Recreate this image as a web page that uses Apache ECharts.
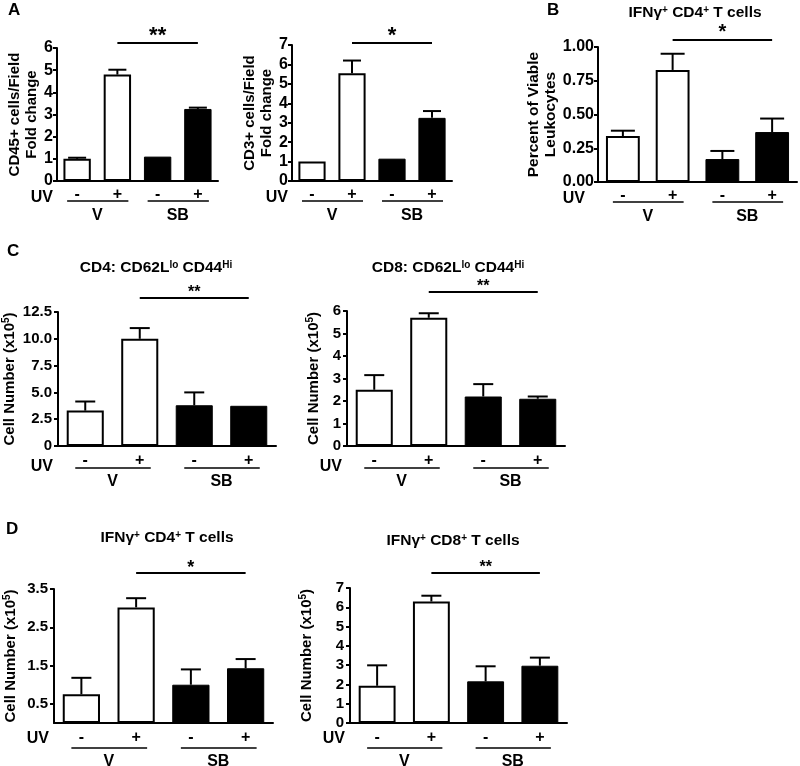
<!DOCTYPE html>
<html><head><meta charset="utf-8">
<script src="https://cdn.jsdelivr.net/npm/echarts@6/dist/echarts.min.js"></script>
<style>html,body{margin:0;padding:0;background:#fff}#c{width:800px;height:766px}</style>
</head><body><div id="c"></div>
<script>
// ---------- data ----------
const uvLabels = ['-', '+', '-', '+'];
const groupNames = ['V', 'SB'];
const groupSpans = [[0, 1], [2, 3]];
const sigPair = [1, 3];

const a1Mean = [1.0, 4.8, 1.1, 3.25];
const a1Err  = [0.05, 0.22, 0.0, 0.06];
const a2Mean = [1.0, 5.55, 1.15, 3.25];
const a2Err  = [0.05, 0.65, 0.0, 0.35];
const bMean  = [0.34, 0.83, 0.17, 0.37];
const bErr   = [0.04, 0.12, 0.06, 0.10];
const c1Mean = [3.3, 10.0, 3.8, 3.75];
const c1Err  = [0.85, 1.0, 1.2, 0.05];
const c2Mean = [2.5, 5.7, 2.2, 2.1];
const c2Err  = [0.65, 0.2, 0.55, 0.1];
const d1Mean = [0.75, 3.02, 1.0, 1.43];
const d1Err  = [0.43, 0.24, 0.4, 0.24];
const d2Mean = [1.93, 6.3, 2.16, 2.97];
const d2Err  = [1.06, 0.3, 0.78, 0.42];

const sigMarks = ['**', '*', '*', '**', '**', '*', '**'];
const yTitles = [
  'CD45+ cells/Field\nFold change',
  'CD3+ cells/Field\nFold change',
  'Percent of Viable\nLeukocytes',
  'Cell Number (x10{s|5})',
  'Cell Number (x10{s|5})',
  'Cell Number (x10{s|5})',
  'Cell Number (x10{s|5})'
];
const yMax = [6, 7, 1, 12.5, 6, 3.5, 7];
const yInterval = [1, 1, 0.25, 2.5, 1, 0.5, 1];
const d1TickValues = [0.5, 1.5, 2.5, 3.5];
const panelTitles = [
  {text: 'IFNγ{s|+} CD4{s|+} T cells', x: 695, y: 13},
  {text: 'CD4: CD62L{s|lo} CD44{s|Hi}', x: 156, y: 268},
  {text: 'CD8: CD62L{s|lo} CD44{s|Hi}', x: 448, y: 268},
  {text: 'IFNγ{s|+} CD4{s|+} T cells', x: 167, y: 538},
  {text: 'IFNγ{s|+} CD8{s|+} T cells', x: 453, y: 541}
];
const letters = [
  {t: 'A', x: 8, y: 10}, {t: 'B', x: 547, y: 10}, {t: 'C', x: 7, y: 251}, {t: 'D', x: 6, y: 529}
];

// ---------- layout ----------
const FONT = '"Liberation Sans", Arial, sans-serif';
const means = [a1Mean, a2Mean, bMean, c1Mean, c2Mean, d1Mean, d2Mean];
const errs  = [a1Err, a2Err, bErr, c1Err, c2Err, d1Err, d2Err];
const L = [
  {grid: {left: 57, top: 48, width: 161, height: 133}, nameGap: 16, nameSize: 15, tick: 16, tm: 4, xm: 6, sigDy: 5, sigSize: 22, lineDy: 20, textDy: 35, uvDy: 17, uvGap: 4, cap: 9, fmt: v => String(v)},
  {grid: {left: 292, top: 45, width: 160, height: 136}, nameGap: 15, nameSize: 15, tick: 16, tm: 4, xm: 6, sigDy: 2, sigSize: 22, lineDy: 20, textDy: 35, uvDy: 17, uvGap: 4, cap: 9, fmt: v => String(v)},
  {grid: {left: 598, top: 47, width: 199, height: 135}, nameGap: 38, nameSize: 15.5, tick: 16, tm: 4, xm: 6, sigDy: 7, sigSize: 20, lineDy: 20, textDy: 35, uvDy: 17, uvGap: 13, cap: 12, fmt: v => v.toFixed(2)},
  {grid: {left: 57, top: 312, width: 219, height: 134}, nameGap: 40, nameSize: 15, tick: 15, tm: 6, xm: 7, sigDy: 14, sigSize: 16, lineDy: 22, textDy: 36, uvDy: 21, uvGap: 5, cap: 10, fmt: v => v === 0 ? '0' : v.toFixed(1)},
  {grid: {left: 347, top: 311, width: 218, height: 135}, nameGap: 25, nameSize: 15, tick: 15, tm: 6, xm: 7, sigDy: 19, sigSize: 16, lineDy: 22, textDy: 36, uvDy: 21, uvGap: 5, cap: 10, fmt: v => String(v)},
  {grid: {left: 54, top: 589, width: 219, height: 134}, nameGap: 35, nameSize: 15, tick: 15, tm: 6, xm: 7, sigDy: 16, sigSize: 18, lineDy: 25, textDy: 39, uvDy: 16, uvGap: 5, cap: 10, fmt: v => v.toFixed(1)},
  {grid: {left: 350, top: 588, width: 217, height: 135}, nameGap: 35, nameSize: 15, tick: 15, tm: 6, xm: 7, sigDy: 15, sigSize: 16, lineDy: 25, textDy: 39, uvDy: 16, uvGap: 5, cap: 10, fmt: v => String(v)}
];

const grids = [], xAxes = [], yAxes = [], series = [];
L.forEach((p, k) => {
  grids.push(Object.assign({containLabel: false}, p.grid));
  xAxes.push({
    gridIndex: k, type: 'category', data: uvLabels,
    axisLine: {lineStyle: {color: '#000', width: 2}},
    axisTick: {alignWithLabel: true, length: 4, lineStyle: {color: '#000', width: 2}},
    axisLabel: {color: '#000', fontWeight: 'bold', fontSize: 16, margin: p.xm, fontFamily: FONT}
  });
  const y = {
    gridIndex: k, type: 'value', min: 0, max: yMax[k], interval: yInterval[k],
    splitLine: {show: false},
    axisLine: {show: true, lineStyle: {color: '#000', width: 2}},
    axisTick: {show: true, length: 4, lineStyle: {color: '#000', width: 2}},
    axisLabel: {color: '#000', fontWeight: 'bold', fontSize: p.tick, margin: p.tm, fontFamily: FONT, formatter: p.fmt},
    name: yTitles[k], nameLocation: 'middle', nameGap: p.nameGap, nameRotate: 90,
    nameTextStyle: {color: '#000', fontWeight: 'bold', fontSize: p.nameSize, fontFamily: FONT, lineHeight: 17,
      rich: {s: {fontSize: 10, fontWeight: 'bold', fontFamily: FONT, verticalAlign: 'top', lineHeight: 10}}}
  };
  if (k === 5) {
    y.axisLabel.customValues = d1TickValues;
    y.axisTick.customValues = d1TickValues;
  }
  yAxes.push(y);

  series.push({
    type: 'bar', xAxisIndex: k, yAxisIndex: k, barCategoryGap: '32%', animation: false,
    data: means[k].map((v, i) => ({value: v, itemStyle: i < 2
      ? {color: '#fff', borderColor: '#000', borderWidth: 2}
      : {color: '#000', borderColor: '#000', borderWidth: 1}}))
  });
  // error bars (upper SEM)
  series.push({
    type: 'custom', xAxisIndex: k, yAxisIndex: k, z: 5, animation: false,
    data: means[k].map((m, i) => [i, m, m + errs[k][i]]),
    renderItem(params, api) {
      const b = api.coord([api.value(0), api.value(1)]);
      const t = api.coord([api.value(0), api.value(2)]);
      if (Math.abs(b[1] - t[1]) < 1) return {type: 'group', children: []};
      const st = {stroke: '#000', lineWidth: 2};
      return {type: 'group', children: [
        {type: 'line', shape: {x1: b[0], y1: b[1], x2: t[0], y2: t[1]}, style: st},
        {type: 'line', shape: {x1: t[0] - p.cap, y1: t[1], x2: t[0] + p.cap, y2: t[1]}, style: st}
      ]};
    }
  });
  // group underlines with V / SB and UV label
  series.push({
    type: 'custom', xAxisIndex: k, yAxisIndex: k, z: 5, animation: false, clip: false,
    data: groupSpans.map(g => [g[0], g[1]]),
    renderItem(params, api) {
      const cs = params.coordSys;
      const y0 = cs.y + cs.height;
      const s = api.coord([api.value(0), 0]);
      const e = api.coord([api.value(1), 0]);
      const x1 = s[0] - 10, x2 = e[0] + 11;
      const ch = [
        {type: 'line', shape: {x1: x1, y1: y0 + p.lineDy, x2: x2, y2: y0 + p.lineDy}, style: {stroke: '#000', lineWidth: 1.5}},
        {type: 'text', x: (s[0] + e[0]) / 2, y: y0 + p.textDy, style: {text: groupNames[params.dataIndex], fill: '#000',
          font: 'bold 16px ' + FONT, textAlign: 'center', textVerticalAlign: 'middle'}}
      ];
      if (params.dataIndex === 0) {
        ch.push({type: 'text', x: cs.x - p.uvGap, y: y0 + p.uvDy, style: {text: 'UV', fill: '#000',
          font: 'bold 16px ' + FONT, textAlign: 'right', textVerticalAlign: 'middle'}});
      }
      return {type: 'group', children: ch};
    }
  });
  // significance bar
  series.push({
    type: 'custom', xAxisIndex: k, yAxisIndex: k, z: 5, animation: false, clip: false,
    data: [[sigPair[0], sigPair[1]]],
    renderItem(params, api) {
      const cs = params.coordSys;
      const yl = cs.y - p.sigDy;
      const s = api.coord([api.value(0), 0]);
      const e = api.coord([api.value(1), 0]);
      const gap = k < 3 ? 12 : 9;
      return {type: 'group', children: [
        {type: 'line', shape: {x1: s[0], y1: yl, x2: e[0], y2: yl}, style: {stroke: '#000', lineWidth: 2}},
        {type: 'text', x: (s[0] + e[0]) / 2, y: yl - gap + 0.23 * p.sigSize, style: {text: sigMarks[k], fill: '#000',
          font: 'bold ' + p.sigSize + 'px ' + FONT, textAlign: 'center', textVerticalAlign: 'middle'}}
      ]};
    }
  });
});

const graphics = [];
letters.forEach(l => graphics.push({type: 'text', x: l.x, y: l.y, style: {text: l.t, fill: '#000',
  font: 'bold 17px ' + FONT, textAlign: 'left', textVerticalAlign: 'middle'}}));
panelTitles.forEach(t => graphics.push({type: 'text', x: t.x, y: t.y, style: {text: t.text, fill: '#000',
  fontFamily: FONT, fontWeight: 'bold', fontSize: 15.5, textAlign: 'center', textVerticalAlign: 'middle',
  rich: {s: {fontSize: 10, fontWeight: 'bold', fontFamily: FONT, verticalAlign: 'top', lineHeight: 9}}}}));

const chart = echarts.init(document.getElementById('c'));
chart.setOption({
  backgroundColor: '#fff', animation: false,
  grid: grids, xAxis: xAxes, yAxis: yAxes, series: series, graphic: graphics
});
</script></body></html>
